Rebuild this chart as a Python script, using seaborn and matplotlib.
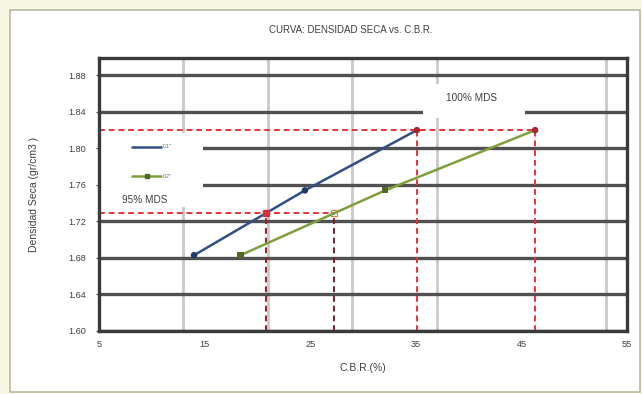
import numpy as np
import pandas as pd
import matplotlib
matplotlib.use("Agg")
import matplotlib.pyplot as plt
from matplotlib.patches import Rectangle
from matplotlib.ticker import MultipleLocator, FixedLocator
from matplotlib.lines import Line2D
import seaborn as sns

# --- data -------------------------------------------------------------
densidad = [1.683, 1.754, 1.820]          # dry density (g/cm3)
cbr_01 = [14.0, 24.5, 35.1]               # CBR at 0.1" penetration (%)
cbr_02 = [18.4, 32.1, 46.3]               # CBR at 0.2" penetration (%)
series_labels = ['0.1"', '0.2"']
mds = 1.820                               # maximum dry density
x_ticks = [5, 15, 25, 35, 45, 55]
y_ticks = [1.60, 1.64, 1.68, 1.72, 1.76, 1.80, 1.84, 1.88]

df = pd.DataFrame({
    "cbr": cbr_01 + cbr_02,
    "dens": densidad + densidad,
    "serie": [series_labels[0]] * 3 + [series_labels[1]] * 3,
})

sns.set_theme(style="white")
plt.rcParams["font.family"] = ["Liberation Sans", "DejaVu Sans"]

txt = "#3f3f3f"
fig = plt.figure(figsize=(6.42, 3.94), dpi=100, facecolor="#f6f6e2")
# white chart area with thin border
fig.patches.append(Rectangle((10 / 642, 2 / 394), 630 / 642, 382 / 394,
                             transform=fig.transFigure, facecolor="white",
                             edgecolor="#b9b9a4", lw=1.2, zorder=-10))

ax = fig.add_axes([99 / 642, 63 / 394, 528 / 642, 273 / 394])
ax.set_zorder(1)
ax.set_facecolor("white")

ax.set_xlim(5, 55)
ax.set_ylim(1.60, 1.899)
ax.xaxis.set_major_locator(FixedLocator(x_ticks))
ax.xaxis.set_minor_locator(MultipleLocator(8, offset=5))
ax.yaxis.set_major_locator(FixedLocator(y_ticks))
ax.set_xticklabels([str(v) for v in x_ticks])
ax.set_yticklabels([f"{v:.2f}" for v in y_ticks])
ax.tick_params(axis="both", labelsize=6.6, colors=txt, length=2.5, width=0.8)
ax.tick_params(axis="x", pad=4)
ax.tick_params(axis="y", pad=7)
ax.tick_params(axis="x", which="minor", length=0)
ax.tick_params(axis="y", left=True, direction="out")

# grid: light vertical lines, heavy dark horizontal lines
ax.grid(False)
ax.xaxis.grid(True, which="minor", color="#c9c9c9", lw=2.0, zorder=0)
ax.yaxis.grid(True, which="major", color="#505050", lw=2.4, zorder=0.5)
ax.set_axisbelow(True)
for s in ax.spines.values():
    s.set_color("#3a3a3a")
    s.set_linewidth(2.4)

# white boxes behind the annotations
ax.add_patch(Rectangle((0.0, 0.455), 0.197, 0.27, transform=ax.transAxes,
                       facecolor="white", edgecolor="none", zorder=1))
ax.add_patch(Rectangle((0.614, 0.78), 0.193, 0.125, transform=ax.transAxes,
                       facecolor="white", edgecolor="none", zorder=1, clip_on=False))

# reference lines at 100% and 95% MDS
mds95 = 0.95 * mds
x95_01 = np.interp(mds95, densidad, cbr_01)
x95_02 = np.interp(mds95, densidad, cbr_02)
red = "#e8323a"
dark_red = "#a01c24"
ax.plot([5, cbr_02[-1]], [mds, mds], ls=(0, (3, 2)), color=red, lw=1.4, zorder=2)
ax.plot([cbr_01[-1]] * 2, [1.60, mds], ls=(0, (3, 2)), color=red, lw=1.4, zorder=2)
ax.plot([cbr_02[-1]] * 2, [1.60, mds], ls=(0, (3, 2)), color=red, lw=1.4, zorder=2)
ax.plot([5, x95_02], [mds95, mds95], ls=(0, (3, 2)), color=red, lw=1.4, zorder=2)
ax.plot([x95_01] * 2, [1.60, mds95], ls=(0, (3, 2)), color=dark_red, lw=1.4, zorder=2)
ax.plot([x95_02] * 2, [1.60, mds95], ls=(0, (3, 2)), color="#7a1e28", lw=1.4, zorder=2)

# density vs CBR curves
palette = {series_labels[0]: "#2f4f86", series_labels[1]: "#7f9f3c"}
sns.lineplot(data=df, x="cbr", y="dens", hue="serie", palette=palette,
             lw=1.8, legend=False, ax=ax, zorder=3, sort=False)
sns.scatterplot(x=cbr_01[:2], y=densidad[:2], color="#1f3a66", s=22,
                marker="o", edgecolor="none", ax=ax, zorder=4)
sns.scatterplot(x=cbr_02[:2], y=densidad[:2], color="#4f6a25", s=20,
                marker="s", edgecolor="none", ax=ax, zorder=4)
sns.scatterplot(x=[cbr_01[-1], cbr_02[-1]], y=[mds, mds], color="#a5262e",
                s=22, marker="o", edgecolor="none", ax=ax, zorder=4)
ax.plot([x95_01], [mds95], marker="s", ms=4, color="#d8313a", zorder=4)
ax.plot([x95_02], [mds95], marker="s", ms=4, mfc="none", mec="#e0803a", mew=0.8, zorder=4)

# legend
handles = [
    Line2D([], [], color=palette[series_labels[0]], lw=1.8),
    Line2D([], [], color=palette[series_labels[1]], lw=1.8, marker="s", ms=2.5,
           mfc="#4f6a25", mec="#4f6a25"),
]
leg = ax.legend(handles, series_labels, loc="upper left",
                bbox_to_anchor=(0.055, 0.70), frameon=False, fontsize=3.5,
                handlelength=5.8, labelspacing=5.0, handletextpad=0.4)
leg.set_zorder(5)
for t in leg.get_texts():
    t.set_color("#666666")

ax.text(0.705, 0.855, "100% MDS", transform=ax.transAxes, ha="center",
        va="center", fontsize=7.2, color=txt, zorder=5)
ax.text(0.087, 0.48, "95% MDS", transform=ax.transAxes, ha="center",
        va="center", fontsize=7.2, color=txt, zorder=5)

ax.set_xlabel("C.B.R.(%)", fontsize=7.5, color=txt, labelpad=10)
ax.set_ylabel("Densidad Seca (gr/cm3 )", fontsize=7.5, color=txt, labelpad=21)
fig.text(351 / 642, 1 - 30 / 394, "CURVA: DENSIDAD SECA vs. C.B.R.",
         ha="center", va="center", fontsize=7.0, color=txt)

fig.savefig("out.png", dpi=100, facecolor=fig.get_facecolor())
